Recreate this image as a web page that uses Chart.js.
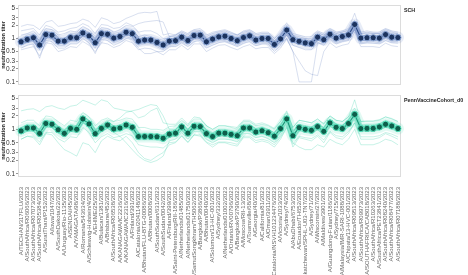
<!DOCTYPE html>
<html>
<head>
<meta charset="utf-8">
<script src="https://cdn.jsdelivr.net/npm/chart.js@4.4.1/dist/chart.umd.min.js"></script>
<style>
  html, body { margin: 0; padding: 0; background: #ffffff; }
  #wrap { position: relative; width: 468px; height: 275px; overflow: hidden; }
  #c1 { position: absolute; left: 0; top: 0; }
  #c2 { position: absolute; left: 0; top: 90px; }
</style>
</head>
<body>
<div id="wrap">
  <canvas id="c1" width="468" height="90"></canvas>
  <canvas id="c2" width="468" height="185"></canvas>
</div>
<script>
const categories = [
  "A/TECHAN/317FLU/2023","A/SouthAfrica/R06066/2023","A/SouthAfrica/R07073/2023","A/SouthAfrica/R05384/2023",
  "A/SuratThani/P152/2023","A/Iowa/1047/2023","A/SouthDakota/22/2023","A/Uruguay/Rio-1135/2023",
  "A/SENDAI/45/2023","A/YAMAGATA/98/2023","A/Romania/543634/2022","A/Schleswig-Holstein/4/2023",
  "A/EHIME/25/2023","A/Bulacan/1381/2023","A/Brisbane/452/2023","A/SouthAfrica/R06538/2023",
  "A/KANAGAWA/IC2236/2023","A/KANAGAWA/IC2316/2023","A/Finland/391/2023","A/Catalonia/2041148/2023",
  "A/Bhutan/FLU-BTG-00086/2023","A/Bhutan/0008/2023","A/SouthSudan/631/2023","A/SouthSudan/0042/2023",
  "A/Finland/399/2023","A/Saint-Petersburg/RII-186/2023","A/Netherlands/01485/2023","A/Netherlands/01750/2023",
  "A/SamutSongkhram/TH5062/2023","A/Bangkok/P3866/2023","A/Bhutan/0040/2023","A/Solomon/13-HC-001/2023",
  "A/Sydney/332/2023","A/Netherlands/01002/2023","A/Ontario/RV00796/2023","A/Bangkok/P3790/2023",
  "A/Moscow/RII-13/2023","A/Townsville/68/2023","A/Georgia/40/2023","A/California/81/2023",
  "A/Oman/3911/2023","A/Catalonia/NSVH101234476/2023","A/Victoria/1033/2023","A/Sydney/74/2023",
  "A/AbuDhabi/6753/2023","A/Ecuador/TH652/2023","A/Saskatchewan/SPHL-U03-TN7/2023","A/Sydney/71/2023",
  "A/Wisconsin/27/2023","A/Maldives/3901/2023","A/Guangdong-Futian/1186/2023","A/Sydney/715/2023",
  "A/Malaysia/IMR-SARI-1088/2023","A/Chipata/13-HVC-001/2023","A/SouthAfrica/R09513/2023","A/SouthAfrica/R09973/2023",
  "A/SOUTHAFRICA/CAB018/2023","A/SouthAfrica/R10263/2023","A/SouthAfrica/PET23841/2023","A/SouthAfrica/R08240/2023",
  "A/SouthAfrica/R08477/2023","A/SouthAfrica/R07188/2023"
];

const yTicks = [0.1, 0.2, 0.3, 0.5, 1, 2, 3, 5];

// SCH panel
const schMean = [0.84,0.95,1.04,0.71,1.23,1.19,0.87,0.87,1.05,1.04,1.34,1.15,0.80,1.29,1.25,1.02,1.11,1.39,1.29,0.87,0.92,0.92,0.81,0.71,0.87,0.89,1.07,0.90,1.17,1.19,0.84,0.97,1.09,1.13,1.00,0.89,1.05,1.15,0.92,1.00,1.00,0.73,0.98,1.56,0.94,0.86,0.79,0.76,1.07,0.94,1.25,1.02,1.11,1.21,2.10,1.02,1.04,1.04,1.02,1.23,1.07,1.05];
const schSubj1 = [1.9,2.1,2.0,1.6,2.4,2.6,1.9,2.0,2.2,2.3,2.8,2.5,1.8,3.0,2.7,2.2,2.4,2.9,3.3,3.8,4.0,3.9,4.2,1.2,1.3,1.2,1.5,1.3,1.6,1.7,1.2,1.4,1.5,1.6,1.4,1.2,1.5,1.6,1.3,1.4,1.4,1.0,1.4,2.3,1.3,1.2,1.1,1.1,1.5,1.3,1.7,1.4,1.5,1.7,3.8,1.4,1.5,1.4,1.4,1.7,1.5,1.4];
const schSubj2 = [0.7,0.8,0.85,0.55,1.0,0.95,0.7,0.7,0.85,0.85,1.1,0.9,0.6,1.05,1.0,0.8,0.9,1.1,1.0,0.7,0.75,0.75,0.65,0.55,0.7,0.72,0.85,0.72,0.95,0.95,0.68,0.78,0.88,0.9,0.8,0.7,0.85,0.92,0.75,0.8,0.8,0.6,0.75,1.0,0.5,0.1,0.1,0.1,0.8,0.75,1.0,0.8,0.9,0.95,1.6,0.8,0.85,0.85,0.8,1.0,0.85,0.85];
const schSubj3 = [1.2,1.3,1.5,1.0,1.7,1.6,1.2,1.3,1.5,1.4,1.9,1.6,1.1,1.8,1.7,1.4,1.6,2.0,1.9,2.2,2.4,2.5,2.6,2.4,1.1,1.2,1.4,1.2,1.5,1.5,1.1,1.3,1.4,1.5,1.3,1.2,1.4,1.5,1.2,1.3,1.3,1.0,1.3,2.0,1.2,1.1,1.0,1.0,1.4,1.2,1.6,1.3,1.4,1.6,2.6,1.3,1.4,1.3,1.3,1.6,1.4,1.3];
const schSubj4 = [0.55,0.6,0.65,0.4,0.8,0.75,0.5,0.55,0.65,0.62,0.85,0.7,0.5,0.8,0.75,0.62,0.7,0.9,0.8,0.55,0.6,0.58,0.5,0.42,0.55,0.55,0.7,0.55,0.75,0.75,0.5,0.6,0.7,0.72,0.62,0.55,0.65,0.72,0.58,0.62,0.62,0.45,0.6,1.0,0.5,0.3,0.18,0.15,0.14,0.5,0.8,0.62,0.7,0.75,1.4,0.65,0.65,0.65,0.62,0.78,0.68,0.65];
const schSubj5 = [1.0,1.2,1.3,0.9,1.5,1.4,1.1,1.0,1.3,1.3,1.6,1.4,1.0,1.6,1.5,1.3,1.4,1.7,1.6,1.1,1.2,1.1,1.0,0.9,1.1,1.1,1.3,1.1,1.4,1.5,1.0,1.2,1.3,1.4,1.2,1.1,1.3,1.4,1.1,1.2,1.2,0.9,1.2,1.9,1.2,1.0,1.0,0.9,1.3,1.2,1.5,1.3,1.4,1.5,2.5,1.3,1.3,1.3,1.3,1.5,1.3,1.3];
const schSubj6 = [0.6,0.7,0.75,0.35,0.9,0.85,0.6,0.6,0.75,0.75,1.0,0.8,0.45,0.95,0.9,0.7,0.8,1.0,0.95,0.6,0.45,0.45,0.5,0.5,0.65,0.65,0.8,0.65,0.85,0.9,0.6,0.7,0.8,0.85,0.75,0.65,0.78,0.85,0.68,0.75,0.75,0.5,0.7,1.2,0.7,0.62,0.55,0.55,0.8,0.7,0.95,0.75,0.85,0.9,1.7,0.75,0.8,0.78,0.75,0.9,0.8,0.78];
const schSubj7 = [1.5,1.6,1.7,1.2,2.0,1.8,1.4,1.5,1.7,1.8,2.2,1.9,1.3,2.1,2.0,1.7,1.8,2.3,2.0,1.4,1.5,1.5,1.3,1.0,1.0,1.0,1.2,1.0,1.3,1.3,0.95,1.1,1.2,1.25,1.1,1.0,1.15,1.3,1.0,1.1,1.1,0.8,1.1,1.8,1.05,0.95,0.9,0.85,1.2,1.05,1.4,1.15,1.25,1.35,2.4,1.15,1.15,1.15,1.1,1.4,1.2,1.15];
const schSubj8 = [0.75,0.85,0.9,0.6,1.05,1.0,0.8,0.75,0.9,0.9,1.15,1.0,0.7,1.1,1.1,0.9,0.95,1.2,1.1,0.75,0.8,0.8,0.7,0.6,0.75,0.78,0.92,0.78,1.0,1.0,0.72,0.85,0.95,1.0,0.88,0.78,0.92,1.0,0.8,0.88,0.88,0.62,0.85,1.35,0.82,0.75,0.68,0.65,0.92,0.82,1.1,0.9,0.95,1.05,1.8,0.9,0.9,0.9,0.88,1.05,0.92,0.9];

// PennVaccineCohort_d0 panel
const pennMean = [0.92,1.07,1.07,0.81,1.35,1.30,0.98,0.81,1.05,1.00,1.71,1.32,0.80,1.05,1.25,1.02,1.07,1.25,1.11,0.69,0.69,0.69,0.68,0.63,0.78,0.82,1.13,0.82,1.17,1.15,0.80,0.69,0.82,0.82,0.77,0.72,1.07,1.07,0.87,0.93,0.84,0.70,1.04,1.71,0.72,1.09,1.00,0.95,1.15,0.90,1.39,1.11,1.04,1.35,2.16,1.04,1.05,1.05,1.13,1.30,1.19,1.04];
const pennSubj1 = [2.6,2.8,2.9,2.5,3.2,3.4,3.0,2.8,3.3,3.5,4.5,4.0,3.5,4.6,4.2,3.0,2.8,2.6,2.5,1.8,2.0,2.6,3.0,1.4,1.3,1.3,1.8,1.3,1.9,1.8,1.2,1.0,1.2,1.2,1.1,1.0,1.5,1.5,1.2,1.3,1.2,1.0,1.5,2.6,1.1,1.6,1.5,1.4,1.7,1.3,2.0,1.6,1.5,1.9,4.6,1.5,1.5,1.5,1.6,1.9,1.7,1.5];
const pennSubj2 = [0.6,0.7,0.65,0.45,0.8,0.75,0.5,0.35,0.3,0.25,0.5,0.45,0.3,0.55,0.7,0.6,0.55,0.7,0.5,0.3,0.22,0.2,0.25,0.3,0.45,0.5,0.7,0.5,0.75,0.7,0.5,0.4,0.5,0.5,0.45,0.42,0.65,0.65,0.5,0.55,0.5,0.4,0.6,1.1,0.4,0.65,0.6,0.55,0.7,0.5,0.85,0.65,0.6,0.8,1.4,0.6,0.6,0.6,0.65,0.8,0.7,0.6];
const pennSubj3 = [1.4,1.6,1.6,1.2,2.0,1.9,1.5,1.2,1.6,1.5,2.4,1.9,1.2,1.6,1.8,1.5,1.6,1.8,1.7,1.1,1.1,1.0,1.0,0.95,1.15,1.2,1.6,1.2,1.7,1.7,1.2,1.0,1.2,1.2,1.15,1.1,1.6,1.6,1.3,1.4,1.25,1.05,1.5,2.4,1.1,1.6,1.5,1.4,1.7,1.35,2.0,1.6,1.5,1.9,3.0,1.5,1.55,1.55,1.65,1.9,1.75,1.5];
const pennSubj4 = [0.6,0.7,0.7,0.52,0.85,0.85,0.62,0.52,0.68,0.65,1.1,0.85,0.5,0.68,0.8,0.65,0.7,0.8,0.72,0.45,0.42,0.4,0.4,0.38,0.5,0.52,0.72,0.52,0.75,0.75,0.52,0.45,0.52,0.52,0.5,0.46,0.7,0.7,0.56,0.6,0.55,0.45,0.68,1.1,0.46,0.7,0.65,0.62,0.75,0.58,0.9,0.72,0.68,0.88,1.4,0.68,0.68,0.68,0.72,0.85,0.78,0.68];
const pennSubj5 = [1.1,1.3,1.3,1.0,1.6,1.6,1.2,1.0,1.3,1.2,2.0,1.6,1.0,1.3,1.6,1.5,1.8,2.4,2.6,2.8,3.2,3.6,3.4,2.0,1.0,1.0,1.4,1.0,1.4,1.4,1.0,0.85,1.0,1.0,0.95,0.9,1.3,1.3,1.05,1.15,1.0,0.85,1.25,2.1,0.9,1.3,1.2,1.15,1.4,1.1,1.7,1.35,1.25,1.6,2.6,1.25,1.3,1.3,1.35,1.6,1.45,1.25];
const pennSubj6 = [0.8,0.9,0.9,0.7,1.1,1.1,0.85,0.7,0.9,0.85,1.4,1.1,0.7,0.9,1.05,0.85,0.7,0.5,0.35,0.25,0.2,0.18,0.2,0.25,0.55,0.6,0.85,0.6,0.9,0.9,0.6,0.5,0.6,0.6,0.58,0.52,0.8,0.8,0.65,0.7,0.62,0.5,0.75,1.2,0.5,0.4,0.35,0.35,0.45,0.4,0.6,0.5,0.45,0.6,1.0,0.45,0.45,0.45,0.5,0.6,0.55,0.45];
const pennSubj7 = [1.1,1.25,1.25,0.95,1.6,1.5,1.15,0.95,1.25,1.2,2.0,1.55,0.95,1.25,1.5,1.2,1.25,1.5,1.3,0.82,0.82,0.82,0.8,0.75,0.92,0.98,1.35,0.98,1.4,1.35,0.95,0.82,0.98,0.98,0.92,0.85,1.25,1.25,1.03,1.1,1.0,0.83,1.22,2.0,0.85,1.3,1.2,1.12,1.35,1.07,1.65,1.3,1.22,1.6,2.6,1.22,1.25,1.25,1.33,1.55,1.4,1.22];
const pennSubj8 = [0.78,0.9,0.92,0.68,1.15,1.1,0.82,0.68,0.9,0.85,1.45,1.12,0.68,0.9,1.05,0.86,0.92,1.05,0.95,0.58,0.58,0.58,0.57,0.53,0.66,0.7,0.96,0.7,1.0,0.98,0.68,0.58,0.7,0.7,0.65,0.61,0.9,0.9,0.74,0.8,0.71,0.6,0.88,1.45,0.61,0.93,0.85,0.8,0.98,0.76,1.18,0.94,0.88,1.15,1.85,0.88,0.9,0.9,0.96,1.1,1.0,0.88];

const schSubjects = [schSubj1, schSubj2, schSubj3, schSubj4, schSubj5, schSubj6, schSubj7, schSubj8];
const pennSubjects = [pennSubj1, pennSubj2, pennSubj3, pennSubj4, pennSubj5, pennSubj6, pennSubj7, pennSubj8];

const FONT = "'Liberation Sans', Arial, Helvetica, sans-serif";

const framePlugin = {
  id: 'frame',
  beforeDatasetsDraw(chart) {
    const a = chart.chartArea, ctx = chart.ctx;
    ctx.save();
    ctx.strokeStyle = '#dcdcdc';
    ctx.lineWidth = 1;
    ctx.strokeRect(a.left + 0.5, a.top + 0.5, a.right - a.left - 1, a.bottom - a.top - 1);
    ctx.restore();
  },
  afterDraw(chart, args, opts) {
    const a = chart.chartArea, ctx = chart.ctx;
    ctx.save();
    ctx.fillStyle = '#222';
    ctx.font = 'bold 5.3px ' + FONT;
    ctx.textBaseline = 'middle';
    ctx.textAlign = 'left';
    ctx.fillText(opts.title, a.right + 3, a.top + 6);
    ctx.restore();
  }
};

function makeChart(canvasId, title, mean, subjects, colors, showX) {
  const datasets = [];
  datasets.push({
    data: mean, order: 0,
    borderColor: colors.mean, borderWidth: 1.2,
    pointRadius: 3.1, pointBorderWidth: 1,
    pointBackgroundColor: colors.markerFill, pointBorderColor: colors.markerEdge,
    tension: 0
  });
  datasets.push({
    data: mean, order: 1,
    borderColor: colors.bandInner, borderWidth: 6,
    pointRadius: 0, borderJoinStyle: 'round', borderCapStyle: 'round'
  });
  datasets.push({
    data: mean, order: 2,
    borderColor: colors.bandOuter, borderWidth: 12,
    pointRadius: 0, borderJoinStyle: 'round', borderCapStyle: 'round'
  });
  subjects.forEach(s => datasets.push({
    data: s, order: 3,
    borderColor: colors.subject, borderWidth: 0.8,
    pointRadius: 0
  }));

  return new Chart(document.getElementById(canvasId), {
    type: 'line',
    data: { labels: categories, datasets },
    plugins: [framePlugin],
    options: {
      responsive: false,
      animation: false,
      events: [],
      layout: { padding: { top: 4, right: 67, bottom: showX ? 0 : 4, left: 0 } },
      plugins: { legend: { display: false }, tooltip: { enabled: false }, frame: { title } },
      scales: {
        x: {
          type: 'category',
          offset: true,
          display: showX,
          grid: { display: false },
          border: { display: false },
          ticks: {
            autoSkip: false, minRotation: 90, maxRotation: 90,
            font: { size: 6, family: FONT }, color: '#666', padding: 2
          },
          afterFit(scale) { scale.height = showX ? 98 : 0; }
        },
        y: {
          type: 'logarithmic',
          min: 0.085, max: 5.9,
          afterBuildTicks(scale) { scale.ticks = yTicks.map(v => ({ value: v })); },
          afterFit(scale) { scale.width = 18; },
          grid: { drawOnChartArea: false, drawTicks: true, tickLength: 2, color: '#999' },
          border: { display: false },
          ticks: {
            font: { size: 6.5, family: FONT }, color: '#333', padding: 1,
            callback: v => String(v)
          },
          title: {
            display: true, text: 'neutralization titer',
            font: { size: 5.5, family: FONT, weight: 'bold' }, color: '#222',
            padding: { top: 0, bottom: 0 }
          }
        }
      }
    }
  });
}

makeChart('c1', 'SCH', schMean, schSubjects, {
  mean: '#2b4c8a', markerFill: '#1c335e', markerEdge: '#8aa6d6',
  bandInner: 'rgba(45,85,165,0.32)', bandOuter: 'rgba(70,110,190,0.13)',
  subject: 'rgba(90,120,190,0.3)'
}, false);

makeChart('c2', 'PennVaccineCohort_d0', pennMean, pennSubjects, {
  mean: '#189b7b', markerFill: '#0e5e4b', markerEdge: '#52e0ba',
  bandInner: 'rgba(30,200,155,0.36)', bandOuter: 'rgba(60,215,175,0.15)',
  subject: 'rgba(60,210,170,0.36)'
}, true);
</script>
</body>
</html>
